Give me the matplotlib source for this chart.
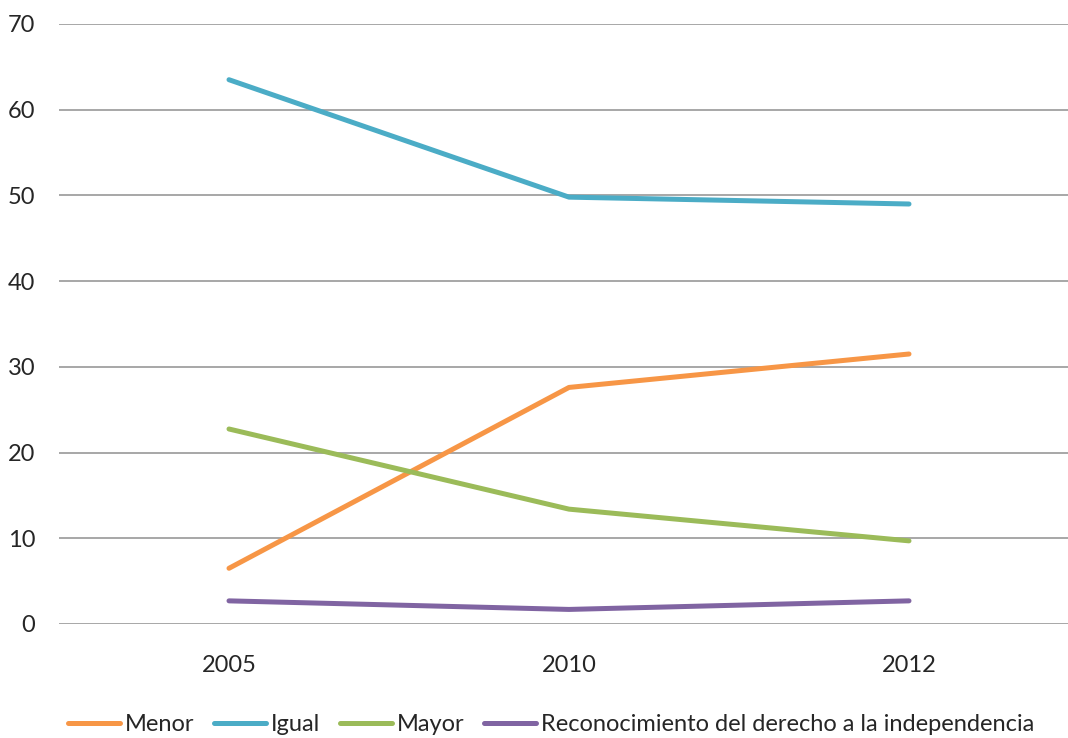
import matplotlib.pyplot as plt

years = ["2005", "2010", "2012"]
menor = [6.5, 27.6, 31.5]
igual = [63.5, 49.8, 49.0]
mayor = [22.75, 13.4, 9.7]
reconocimiento = [2.7, 1.7, 2.7]

series = [
    ("Menor", menor, "#F79646"),
    ("Igual", igual, "#4BACC6"),
    ("Mayor", mayor, "#9BBB59"),
    ("Reconocimiento del derecho a la independencia", reconocimiento, "#8064A2"),
]

plt.rcParams["font.family"] = ["Lato", "DejaVu Sans"]

fig = plt.figure(figsize=(10.68, 7.38), dpi=100)
ax = fig.add_axes([59 / 1068, 114 / 738, 1020 / 1068, 600 / 738])

x = list(range(len(years)))
for name, vals, color in series:
    ax.plot(x, vals, color=color, lw=3.6, label=name, solid_capstyle="round",
            solid_joinstyle="round")

ax.set_xlim(-0.5, 2.5)
ax.set_ylim(0, 70)
ax.set_yticks(range(0, 71, 10))
ax.set_xticks(x)
ax.set_xticklabels(years)
ax.yaxis.grid(True, color="#A0A0A0", lw=1.3)
ax.set_axisbelow(True)
for s in ax.spines.values():
    s.set_visible(False)
ax.tick_params(length=0, labelsize=17, colors="#262626")
ax.tick_params(axis="y", pad=17)
ax.tick_params(axis="x", pad=22)

leg = fig.legend(loc="lower center", bbox_to_anchor=(0.516, -0.025), ncol=4,
                 frameon=False, fontsize=17, handlelength=2.2, handletextpad=0.2,
                 columnspacing=0.85)
for t in leg.get_texts():
    t.set_color("#262626")

fig.savefig("out.png", dpi=100)
